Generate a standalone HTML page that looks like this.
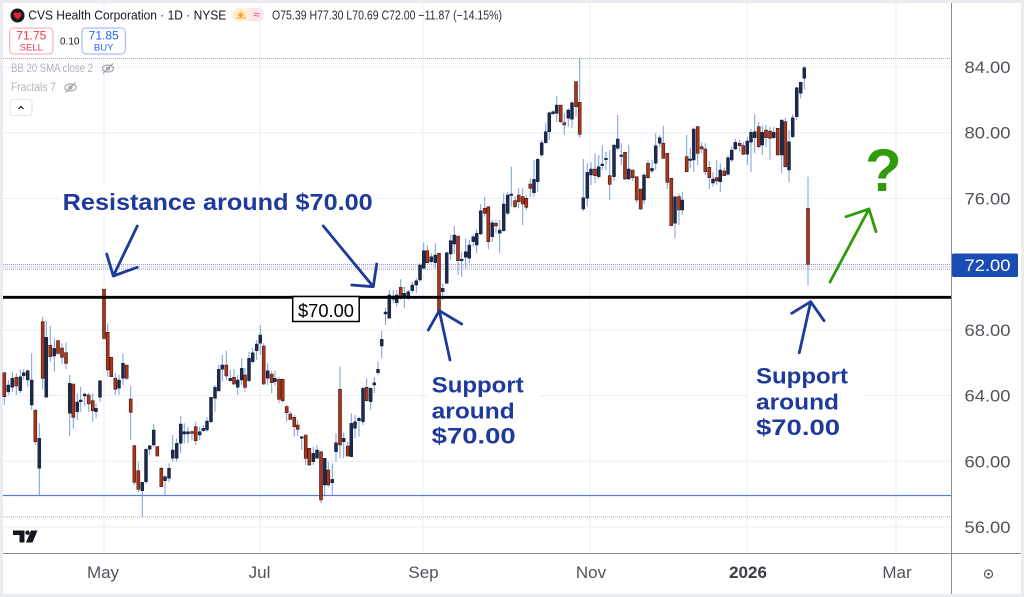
<!DOCTYPE html>
<html><head><meta charset="utf-8"><style>
html,body{margin:0;padding:0;background:#e9ecf1;}
body{width:1024px;height:597px;overflow:hidden;position:relative;font-family:"Liberation Sans",sans-serif;}
svg{position:absolute;left:0;top:0;}
</style></head><body>
<svg width="1024" height="597" viewBox="0 0 1024 597" xmlns="http://www.w3.org/2000/svg" font-family="Liberation Sans, sans-serif">
<rect x="3" y="3" width="1018" height="591" fill="#ffffff"/>
<!-- grid -->
<g stroke="#e9eef5" stroke-width="1">
<path d="M3 67H951M3 132.7H951M3 198.4H951M3 264.2H951M3 329.9H951M3 395.6H951M3 461.3H951M3 527H951"/>
<path d="M104 3V553M260 3V553M423 3V553M590 3V553M747 3V553M896 3V553"/>
</g>
<!-- dotted lines -->
<g stroke-dasharray="1 1" stroke-width="1">
<path d="M3 58.5H951" stroke="#a9adb8"/>
<path d="M3 517H951" stroke="#a9adb8"/>
<path d="M3 264.5H951" stroke="#8aa6de"/>
<path d="M3 266.8H951" stroke="#e6a3a8"/>
<path d="M3 269H951" stroke="#8aa6de"/>
</g>
<!-- blue support line -->
<path d="M3 495.5H951" stroke="#5b7fd6" stroke-width="1.2"/>
<!-- wicks -->
<path fill="none" stroke="#7a9ddb" stroke-width="1" d="M4.3 372.7V405M8.3 380V395M12.3 371.7V391.7M16.3 373.3V395M20.3 369.3V393.3M23.7 369.3V380M27.7 369.3V386.7M31.7 353.3V410M35.3 410V445M39.3 423.3V495M42.7 316.7V389.3M46.3 320.7V397.3M50.3 326V361.7M54.3 338.3V371.7M58 340V355M62 343.3V364M66 342.7V369.3M69.7 375V436M73.3 384V428.7M77.3 393.3V420M80.7 386.7V411.7M84.7 392.7V406M88.7 392.7V411.7M92.7 393.3V421.7M96 403.3V418.3M100 380V401.7M104 288.3V340M107.7 323.3V376.7M111.3 356.7V376.7M115.3 373.3V395M119 375V395M123 353.3V385M126.7 365V380M130.7 386V440M134.3 445V485M138.3 461.7V492.7M142.3 481.7V516.7M146 448.3V484M149.7 445V455M153.7 424V446.7M157.3 446V456.7M161.3 466.7V486.7M165 475V495M169 463.3V481.7M172.7 435V461.7M176.7 438.3V461.7M180.7 416V453.3M184.3 423.3V443.3M188 426.7V443.3M192 430V440M195.7 421.7V445M199.7 426.7V440M203.3 425V431.7M207 417.3V431.7M211 397.3V423.3M215 385V411.7M218.7 365V391M222.3 355V381.7M226.3 350.7V380M230.3 370V381.7M234 369.3V385M237.7 375V395M241.7 358.3V385M245 368.3V391.7M249 351.7V381.7M252.7 348.3V363.3M256.7 340V360M260.3 325V355M263.7 343.3V385M267.7 363.3V385M271.7 370.7V393.3M275 370.7V386M279 376.7V403.3M282.7 378.3V402.7M286.7 405V421.7M290.3 411.7V420M294.3 415V436.7M297.7 420V436M301.7 436.7V450M305.7 435V465M309.3 448.3V466M313.3 446.7V465M317 445V458.3M321 451.7V503.3M324.7 458.3V495M328.3 461.7V486.7M332.3 463.3V495M336 433.3V461.7M340 366.7V458.3M343.7 432.7V458.3M347.7 441.7V456.7M351.3 413.3V456.7M355 415V438.3M359 416.7V436.7M363 386.7V425M366.7 378.3V401.7M370.7 386.7V410M374.3 376.7V393.3M378 361.7V375M381.7 330.7V358.3M385.5 308V325M389.3 290V318.3M393.3 290V303.3M396.7 290V306.7M400.7 279.3V300M404.3 286.7V308.3M408.3 290V300M412.3 281.7V293.3M416.3 278.3V293.3M420 263.3V281.7M423.7 242.7V269.3M427.3 245V263.3M431.3 253.3V263.3M435.3 243.3V268.3M439 253.3V311.7M442.7 283.3V300M446.7 251.7V284M450.7 235V260M454.3 226V254M458 236V275M461.7 251.7V276.7M465.7 238.3V268.3M469.3 240V263.3M473.3 235V246.7M476.7 229.3V253.3M480.7 204V235M484.7 196.7V216.7M488.3 206.7V249.3M492.3 220V241.7M496 220V233.3M499.7 220V253.3M503.7 193.3V231.7M507.7 191.7V215M511.3 166.7V206.7M515 196.7V208.3M518.7 188.3V208.3M522.7 188.3V225M526.3 195V210M530.3 178.3V196.7M534 160V196.7M537.7 158.3V191.7M541.7 140V156.7M545.7 122.7V144M549.3 111.7V140M553 110V114M556.7 96V121.7M560.7 105V123.3M564.3 113.3V135M568.3 108.3V126.7M572 100.7V128.3M576 81.7V116.7M579.7 58V138M583.3 159V211M587.3 163.3V206.7M591 162.3V185M595 153.3V183.3M598.7 155V179M602.3 145V170M606 151.7V170M609.7 150V200M614 145V181M617.7 115V150M621.3 143.3V165M625 151.7V180M628.7 145V180M632.7 170V181M636.7 176.7V203.3M640.7 189V210M644 173.3V204.3M648 160V179M652 160V173.3M655.7 133.3V170M659.7 135V147.7M663.3 125.7V158.3M667.3 153.3V189M671.3 178.3V225.7M675 196.7V238.3M679 193.3V225M682.3 191.7V215M686.7 135V172.3M690.3 147.7V168.3M693.7 127.7V171.7M697.7 125.7V165M701.7 142.3V153.3M705.3 143.3V175M709.3 161V189M713 172.3V186.7M716.7 160V185M720.3 163.3V191.7M724.3 167.7V175.7M728 155V175.7M731.7 146.7V161.7M735.3 139V150M739.7 140V151.7M743.3 142.3V155M747.3 136.7V165M751 129V172.3M754.7 114.3V153.3M758.7 121.7V148.3M762.3 125.7V155M766 125V146.7M770 126.7V160M773.7 126.7V139M777.7 128.3V155.7M781.7 120V173.3M785.3 117.7V167.7M789 130V182.3M792.7 114.3V138.3M796.7 86.7V120M800.7 81.7V98.3M804.3 65.7V89M808 176.7V285.7"/>
<!-- up bodies -->
<path fill="#1b2a4e" stroke="#15203d" stroke-width="0.5" d="M6.8 385h3V391.7h-3zM10.8 378.3h3V387.3h-3zM18.8 376.7h3V390.7h-3zM22.2 372.7h3V375.7h-3zM26.2 370.7h3V380h-3zM30.2 380h3V405h-3zM37.8 438.3h3V468.3h-3zM44.8 337.3h3V397.3h-3zM52.8 348.3h3V356h-3zM68.2 383.3h3V413.3h-3zM75.8 402h3V411.7h-3zM79.2 400h3V401.7h-3zM83.2 394h3V396h-3zM94.5 408.3h3V411.7h-3zM98.5 380.7h3V397.3h-3zM117.5 380h3V388.3h-3zM121.5 363.3h3V378.3h-3zM140.8 482.3h3V490.7h-3zM144.5 449.3h3V481.7h-3zM148.2 445.7h3V449.3h-3zM152.2 430h3V445h-3zM163.5 476.7h3V480.7h-3zM167.5 468.3h3V478.3h-3zM171.2 450h3V458.3h-3zM175.2 443.3h3V458.3h-3zM179.2 424h3V443.3h-3zM182.8 431.7h3V434h-3zM186.5 431.7h3V434h-3zM198.2 431.7h3V435h-3zM201.8 428.3h3V430.7h-3zM205.5 421h3V430h-3zM209.5 397.3h3V421.7h-3zM213.5 387.3h3V398.3h-3zM217.2 369.3h3V391h-3zM220.8 365h3V369.3h-3zM228.8 378.3h3V380.7h-3zM236.2 380h3V387.3h-3zM240.2 368.3h3V380h-3zM247.5 358.3h3V380.7h-3zM251.2 352.7h3V361.7h-3zM255.2 344h3V350.7h-3zM258.8 335h3V343.3h-3zM266.2 370.7h3V378.3h-3zM273.5 378.3h3V381.7h-3zM300.2 436.7h3V438.2h-3zM311.8 453.3h3V461.7h-3zM315.5 450h3V458.3h-3zM323.2 458.3h3V485h-3zM330.8 479.3h3V482.7h-3zM334.5 442.7h3V451.7h-3zM342.2 438.3h3V441.7h-3zM349.8 423.3h3V456.7h-3zM353.5 421.7h3V428.3h-3zM357.5 418.3h3V420.7h-3zM361.5 388.3h3V421.7h-3zM369.2 388.3h3V401.7h-3zM372.8 382.7h3V385h-3zM376.5 369.3h3V372.7h-3zM380.2 339.3h3V346h-3zM384 312h3V314h-3zM387.8 295h3V318.3h-3zM391.8 296h3V299.3h-3zM395.2 295h3V302.7h-3zM402.8 293.3h3V296.7h-3zM406.8 291.7h3V296.7h-3zM410.8 285h3V290.7h-3zM414.8 280.7h3V285h-3zM418.5 265h3V280h-3zM422.2 250.7h3V268.3h-3zM429.8 256.7h3V261.7h-3zM433.8 255h3V262.7h-3zM441.2 288.3h3V291.7h-3zM445.2 252.7h3V283.3h-3zM449.2 240.7h3V254h-3zM452.8 235h3V244h-3zM460.2 259.3h3V260.8h-3zM464.2 251.7h3V257.3h-3zM467.8 245h3V258.3h-3zM471.8 236.7h3V241.7h-3zM475.2 233.3h3V245h-3zM479.2 210.7h3V234h-3zM490.8 222.7h3V236.7h-3zM498.2 230h3V233.3h-3zM502.2 204h3V230.7h-3zM506.2 195h3V213.3h-3zM509.8 194h3V195.5h-3zM532.5 179.3h3V192.7h-3zM536.2 159.3h3V181.7h-3zM540.2 142.7h3V155h-3zM544.2 131.7h3V142.7h-3zM547.8 112.7h3V131.7h-3zM551.5 111.7h3V114h-3zM555.2 105h3V113.3h-3zM566.8 110h3V118.3h-3zM570.5 102.7h3V119.3h-3zM581.8 197.7h3V209h-3zM585.8 172.3h3V198.3h-3zM589.5 169h3V175h-3zM597.2 166.7h3V176.7h-3zM600.8 164h3V165.7h-3zM604.5 158.3h3V159.8h-3zM612.5 145h3V176.7h-3zM616.2 139h3V148.3h-3zM619.8 155h3V156.5h-3zM627.2 169h3V179h-3zM642.5 175h3V200h-3zM650.5 168.3h3V171h-3zM654.2 145.7h3V163.3h-3zM658.2 137.7h3V143.3h-3zM673.5 196.7h3V223.3h-3zM680.8 200h3V210h-3zM688.8 159h3V160.5h-3zM692.2 129h3V160h-3zM711.5 179h3V183h-3zM718.8 170h3V181.7h-3zM726.5 157.7h3V174.3h-3zM730.2 150h3V160h-3zM733.8 142.3h3V149h-3zM745.8 141h3V154.3h-3zM749.5 132.3h3V142.3h-3zM753.2 131.7h3V137.7h-3zM760.8 132.3h3V145h-3zM772.2 132.3h3V137.7h-3zM780.2 120h3V155h-3zM787.5 141.7h3V170h-3zM791.2 117.7h3V136.7h-3zM795.2 87.7h3V116.7h-3zM799.2 82.3h3V93.3h-3zM802.8 67.7h3V78.3h-3z"/>
<!-- down bodies -->
<path fill="#a8361a" stroke="#4a1a10" stroke-width="0.6" d="M2.8 372.7h3V396.7h-3zM14.8 377.3h3V386h-3zM33.8 410h3V441.7h-3zM41.2 321.7h3V378.3h-3zM48.8 345.3h3V356.7h-3zM56.5 340.7h3V353.3h-3zM60.5 348h3V357.3h-3zM64.5 352.7h3V363.3h-3zM71.8 384h3V417.3h-3zM87.2 395h3V404h-3zM91.2 400.7h3V410.7h-3zM102.5 289.3h3V338.3h-3zM106.2 332.3h3V370h-3zM109.8 357.3h3V376.7h-3zM113.8 378.3h3V389.3h-3zM125.2 365h3V378.3h-3zM129.2 399h3V412.3h-3zM132.8 445.7h3V482.3h-3zM136.8 470.7h3V489.3h-3zM155.8 446.7h3V456h-3zM159.8 468.3h3V486.7h-3zM190.5 431.7h3V433.3h-3zM194.2 426.7h3V440.7h-3zM224.8 365h3V376h-3zM232.5 377.3h3V384h-3zM243.5 375h3V387.3h-3zM262.2 346h3V384h-3zM270.2 374h3V382.7h-3zM277.5 379.3h3V399.3h-3zM281.2 379.3h3V400.7h-3zM285.2 406.7h3V412.7h-3zM288.8 414h3V419.3h-3zM292.8 417.3h3V426.7h-3zM296.2 425h3V429.3h-3zM304.2 435h3V458.3h-3zM307.8 448.3h3V465h-3zM319.5 451.7h3V500h-3zM326.8 470h3V485h-3zM338.5 389.3h3V445h-3zM346.2 446h3V456h-3zM365.2 387.3h3V400.7h-3zM399.2 287.3h3V296.7h-3zM425.8 250.7h3V262.7h-3zM437.5 253.3h3V311.7h-3zM456.5 236h3V260.7h-3zM483.2 208.3h3V213.3h-3zM486.8 206.7h3V241.7h-3zM494.5 223.3h3V226h-3zM513.5 200.7h3V206.7h-3zM517.2 195h3V201.7h-3zM521.2 196.7h3V204h-3zM524.8 198.3h3V207.3h-3zM528.8 184h3V188.3h-3zM559.2 105h3V121.7h-3zM562.8 122.7h3V125h-3zM574.5 81.7h3V106.7h-3zM578.2 102.3h3V134.3h-3zM593.5 169h3V175.7h-3zM608.2 175.7h3V184.3h-3zM623.5 152.3h3V179h-3zM631.2 170h3V177.7h-3zM635.2 176.7h3V200h-3zM639.2 189h3V209h-3zM646.5 163.3h3V177.7h-3zM661.8 143.3h3V158.3h-3zM665.8 153.3h3V182.3h-3zM669.8 178.3h3V225.7h-3zM677.5 196.7h3V210h-3zM685.2 156.7h3V171.7h-3zM696.2 126.7h3V153.3h-3zM700.2 146.7h3V149h-3zM703.8 149h3V171.7h-3zM707.8 167.3h3V177.7h-3zM715.2 177.7h3V181h-3zM722.8 171h3V175.7h-3zM738.2 143.3h3V145.7h-3zM741.8 145.7h3V154.3h-3zM757.2 126.7h3V146.7h-3zM764.5 130h3V137.7h-3zM768.5 131h3V138.3h-3zM776.2 128.3h3V155h-3zM783.8 121.7h3V166.7h-3zM806.5 208.3h3V264.3h-3z"/>
<!-- black $70 line -->
<path d="M3 297.3H951" stroke="#000" stroke-width="2.8"/>
<rect x="292.7" y="296.5" width="66.5" height="25" fill="#fff" stroke="#000" stroke-width="1.5"/>
<text x="326" y="317" font-size="18" text-anchor="middle" fill="#000" textLength="56" lengthAdjust="spacingAndGlyphs">$70.00</text>
<!-- annotation backgrounds -->
<rect x="60" y="186" width="318" height="30" fill="#fff"/>
<rect x="427" y="370" width="112" height="80" fill="#fff"/>
<rect x="748" y="360" width="115" height="80" fill="#fff"/>
<g fill="#1e3a9a" font-weight="bold">
<text x="62.7" y="210" font-size="23.5" textLength="310" lengthAdjust="spacingAndGlyphs">Resistance around $70.00</text>
<text x="431.7" y="392.7" font-size="22.5" textLength="92" lengthAdjust="spacingAndGlyphs">Support</text>
<text x="431.7" y="418.3" font-size="22.5" textLength="83" lengthAdjust="spacingAndGlyphs">around</text>
<text x="431.7" y="443.3" font-size="22.5" textLength="84" lengthAdjust="spacingAndGlyphs">$70.00</text>
<text x="756" y="383.3" font-size="22.5" textLength="92" lengthAdjust="spacingAndGlyphs">Support</text>
<text x="756" y="409.3" font-size="22.5" textLength="83" lengthAdjust="spacingAndGlyphs">around</text>
<text x="756" y="435" font-size="22.5" textLength="84" lengthAdjust="spacingAndGlyphs">$70.00</text>
</g>
<g fill="none" stroke="#1e3a9a" stroke-width="2.8" stroke-linecap="round" stroke-linejoin="round">
<path d="M137.3 226L113.3 276M106.7 254L113.3 276L137.3 267.3"/>
<path d="M323.3 226L373.3 286.7M351.7 285L373.3 286.7L376.7 264"/>
<path d="M450 360L439.3 310.7M428.3 330L439.3 310.7L461.7 324"/>
<path d="M799.3 352.7L810.7 301.7M791.7 313.3L810.7 301.7L824 320.7"/>
</g>
<!-- green arrow and question mark -->
<g fill="none" stroke="#2f9b0a" stroke-width="2.8" stroke-linecap="round" stroke-linejoin="round">
<path d="M830 282L869 209M846 216.7L869 209L876 231.7"/>
</g>
<text x="865" y="191" font-size="60" font-weight="bold" fill="#2f9b0a">?</text>
<!-- header -->
<circle cx="17.5" cy="15.5" r="7" fill="#1a1a1a"/>
<path d="M17.5 19.5C15 17.5 13.6 16.2 13.6 14.4C13.6 13.2 14.5 12.3 15.6 12.3C16.4 12.3 17.1 12.8 17.5 13.4C17.9 12.8 18.6 12.3 19.4 12.3C20.5 12.3 21.4 13.2 21.4 14.4C21.4 16.2 20 17.5 17.5 19.5Z" fill="#e0242f"/>
<text x="28.3" y="19.5" font-size="12.5" fill="#131722" textLength="198" lengthAdjust="spacingAndGlyphs">CVS Health Corporation · 1D · NYSE</text>
<rect x="232" y="8" width="32" height="13.5" rx="6.5" fill="#fde6e9"/>
<path d="M238.5 8H249V21.5H238.5A6.5 6.5 0 0 1 238.5 8Z" fill="#fff0d6"/>
<circle cx="240.8" cy="15" r="2.3" fill="#f5a623"/>
<path d="M240.8 10.8V11.8M236.8 15H237.8M243.8 15H244.8M238 12.2L238.6 12.8M243.6 12.2L243 12.8M236 18H246" stroke="#f5a623" stroke-width="1"/>
<text x="256.5" y="18.5" font-size="12" fill="#e0457b" text-anchor="middle">≈</text>
<text x="272" y="19.5" font-size="12.5" fill="#2a2e39" textLength="230" lengthAdjust="spacingAndGlyphs">O75.39 H77.30 L70.69 C72.00 −11.87 (−14.15%)</text>
<rect x="9.7" y="28" width="43.3" height="26" rx="4" fill="#fff" stroke="#f5a3aa" stroke-width="1"/>
<text x="31.3" y="39.5" font-size="12" fill="#f23645" text-anchor="middle">71.75</text>
<text x="31.3" y="50.5" font-size="9.5" fill="#f23645" text-anchor="middle">SELL</text>
<text x="60" y="44.5" font-size="10" fill="#131722">0.10</text>
<rect x="82" y="28" width="43.3" height="26" rx="4" fill="#fff" stroke="#92b0fb" stroke-width="1"/>
<text x="103.7" y="39.5" font-size="12" fill="#2962ff" text-anchor="middle">71.85</text>
<text x="103.7" y="50.5" font-size="9.5" fill="#2962ff" text-anchor="middle">BUY</text>
<text x="11" y="72" font-size="11.5" fill="#b2b5be" textLength="82" lengthAdjust="spacingAndGlyphs">BB 20 SMA close 2</text>
<text x="11" y="91" font-size="11.5" fill="#b2b5be" textLength="45" lengthAdjust="spacingAndGlyphs">Fractals 7</text>
<g fill="none" stroke="#9598a1" stroke-width="1">
<ellipse cx="108" cy="68.5" rx="5.5" ry="3.5"/><circle cx="108" cy="68.5" r="1.5"/><path d="M103 73.5L113 63.5"/>
<ellipse cx="70.5" cy="87.5" rx="5.5" ry="3.5"/><circle cx="70.5" cy="87.5" r="1.5"/><path d="M65.5 92.5L75.5 82.5"/>
</g>
<rect x="10" y="99.5" width="22" height="16" rx="3" fill="#fff" stroke="#e0e3eb"/>
<path d="M18.5 109L21 106.5L23.5 109" fill="none" stroke="#131722" stroke-width="1.2"/>
<!-- axes -->
<path d="M951.5 3V594" stroke="#8a8d96" stroke-width="1"/>
<path d="M3 553.5H1021" stroke="#8a8d96" stroke-width="1"/>
<g font-size="17" fill="#50535e" text-anchor="middle">
<text x="987.5" y="73" textLength="46" lengthAdjust="spacingAndGlyphs">84.00</text>
<text x="987.5" y="138.7" textLength="46" lengthAdjust="spacingAndGlyphs">80.00</text>
<text x="987.5" y="204.4" textLength="46" lengthAdjust="spacingAndGlyphs">76.00</text>
<text x="987.5" y="335.9" textLength="46" lengthAdjust="spacingAndGlyphs">68.00</text>
<text x="987.5" y="401.6" textLength="46" lengthAdjust="spacingAndGlyphs">64.00</text>
<text x="987.5" y="467.3" textLength="46" lengthAdjust="spacingAndGlyphs">60.00</text>
<text x="987.5" y="533" textLength="46" lengthAdjust="spacingAndGlyphs">56.00</text>
</g>
<rect x="952" y="253.5" width="66" height="23.5" rx="1.5" fill="#1a4cb5"/>
<text x="987.5" y="271" font-size="17" fill="#fff" text-anchor="middle" textLength="46" lengthAdjust="spacingAndGlyphs">72.00</text>
<g font-size="17" fill="#50535e" text-anchor="middle">
<text x="103" y="578">May</text>
<text x="259.5" y="578">Jul</text>
<text x="423.5" y="578">Sep</text>
<text x="591" y="578">Nov</text>
<text x="748" y="578" font-weight="bold" fill="#3a3d46">2026</text>
<text x="897" y="578">Mar</text>
</g>
<circle cx="988.5" cy="574" r="4" fill="none" stroke="#50535e" stroke-width="1.2"/>
<circle cx="988.5" cy="574" r="1.3" fill="#50535e"/>
<!-- TV logo -->
<g fill="#131722">
<path d="M13 530.5H24.5V542.5H19.5V535H13Z"/>
<circle cx="27.5" cy="532.7" r="2.2"/>
<path d="M31 530.5H37.5L32.5 542.5H26Z"/>
</g>
</svg>
</body></html>
